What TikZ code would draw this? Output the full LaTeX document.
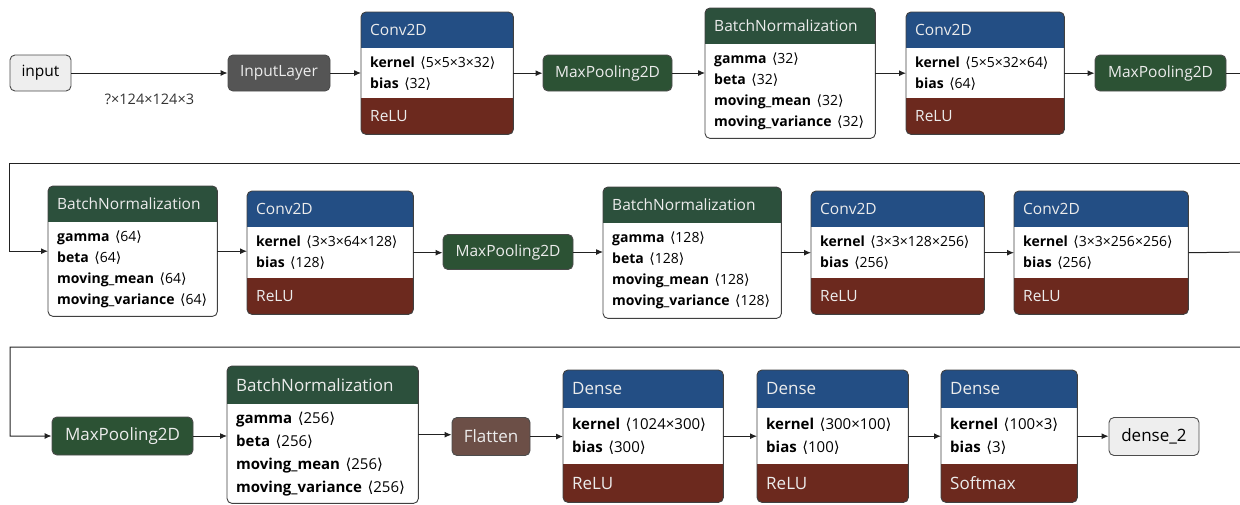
\documentclass[tikz,border=0pt]{standalone}
\usepackage{fontspec}
\setmainfont{Open Sans}
\newfontfamily\brfont{DejaVu Sans}
\usetikzlibrary{arrows.meta}

\definecolor{convblue}{RGB}{35,78,132}
\definecolor{normgreen}{RGB}{44,80,60}
\definecolor{poolgreen}{RGB}{44,82,52}
\definecolor{actred}{RGB}{108,41,30}
\definecolor{flatbrown}{RGB}{108,79,71}
\definecolor{layergray}{RGB}{85,85,85}
\definecolor{iofill}{RGB}{238,238,238}
\definecolor{edgecol}{RGB}{34,34,34}
\definecolor{headtext}{RGB}{236,236,236}

\newcommand{\hdsize}{\fontsize{15.5}{19}\selectfont}
\newcommand{\bdsize}{\fontsize{14}{21}\selectfont}
\newcommand{\hdh}{36pt}
\newcommand{\shp}[1]{\hspace{5.5pt}{\brfont ⟨}#1{\brfont ⟩}}

\tikzset{
  conn/.style={draw=edgecol, line width=1pt, -{Latex[length=7pt,width=6pt]}},
  boxshape/.style={rectangle, fill=white, rounded corners=5pt, anchor=north west, inner sep=0pt},
  boxborder/.style={draw=black!75, line width=0.9pt, rounded corners=5pt},
  headtxt/.style={text=headtext, font=\hdsize, anchor=west, inner sep=0pt},
  bodytxt/.style={text=black, font=\bdsize, align=left, anchor=west, inner sep=0pt},
  opnode/.style={rectangle, rounded corners=5pt, draw=black!70, line width=0.9pt, minimum height=\hdh, text=headtext, font=\hdsize},
  ionode/.style={opnode, fill=iofill, text=black},
  shapelbl/.style={text=black!80, font=\fontsize{14.5}{17}\selectfont}
}

% layer with weights and activation: name, x, y, width, height, title, weights, activation
\newcommand{\convbox}[8]{%
  \node[boxshape, minimum width=#4, minimum height=#5] (#1) at (#2,#3) {};
  \begin{scope}
    \clip[rounded corners=5pt] (#1.north west) rectangle (#1.south east);
    \fill[convblue] (#1.north west) rectangle ([yshift=-\hdh]#1.north east);
    \fill[actred] ([yshift=\hdh]#1.south west) rectangle (#1.south east);
  \end{scope}
  \draw[boxborder] (#1.north west) rectangle (#1.south east);
  \node[headtxt] (#1-title) at ([xshift=9pt, yshift=-\hdh/2]#1.north west) {#6};
  \node[bodytxt] (#1-body) at ([xshift=9pt]#1.west) {#7};
  \node[headtxt] (#1-act) at ([xshift=9pt, yshift=\hdh/2]#1.south west) {#8};
}

% normalization layer: name, x, y, width, height, title, weights
\newcommand{\normbox}[7]{%
  \node[boxshape, minimum width=#4, minimum height=#5] (#1) at (#2,#3) {};
  \begin{scope}
    \clip[rounded corners=5pt] (#1.north west) rectangle (#1.south east);
    \fill[normgreen] (#1.north west) rectangle ([yshift=-\hdh]#1.north east);
  \end{scope}
  \draw[boxborder] (#1.north west) rectangle (#1.south east);
  \node[headtxt] (#1-title) at ([xshift=9pt, yshift=-\hdh/2]#1.north west) {#6};
  \node[bodytxt] (#1-body) at ([xshift=9pt, yshift=-\hdh/2]#1.west) {#7};
}

\begin{document}
\begin{tikzpicture}[x=1pt, y=-1pt]
\useasboundingbox (0,0) rectangle (1240,504);

% Row 1
\node[ionode, minimum width=61] (input) at (40.5,73) {input};
\node[opnode, fill=layergray, minimum width=102] (inputlayer) at (279,73) {InputLayer};
\convbox{conv1}{361}{12}{152}{122}{Conv2D}{\textbf{kernel}\shp{5×5×3×32}\\\textbf{bias}\shp{32}}{ReLU}
\node[opnode, fill=poolgreen, minimum width=129] (pool1) at (607.5,73) {MaxPooling2D};
\normbox{bn1}{705}{8}{170}{130}{BatchNormalization}{\textbf{gamma}\shp{32}\\\textbf{beta}\shp{32}\\\textbf{moving\_mean}\shp{32}\\\textbf{moving\_variance}\shp{32}}
\convbox{conv2}{906}{12}{158}{122}{Conv2D}{\textbf{kernel}\shp{5×5×32×64}\\\textbf{bias}\shp{64}}{ReLU}
\node[opnode, fill=poolgreen, minimum width=131] (pool2) at (1160.5,73) {MaxPooling2D};

% Row 2
\normbox{bn2}{48}{186}{169}{130}{BatchNormalization}{\textbf{gamma}\shp{64}\\\textbf{beta}\shp{64}\\\textbf{moving\_mean}\shp{64}\\\textbf{moving\_variance}\shp{64}}
\convbox{conv3}{247}{191}{166}{123}{Conv2D}{\textbf{kernel}\shp{3×3×64×128}\\\textbf{bias}\shp{128}}{ReLU}
\node[opnode, fill=poolgreen, minimum width=130, minimum height=35] (pool3) at (508,252) {MaxPooling2D};
\normbox{bn3}{603}{187}{178}{131}{BatchNormalization}{\textbf{gamma}\shp{128}\\\textbf{beta}\shp{128}\\\textbf{moving\_mean}\shp{128}\\\textbf{moving\_variance}\shp{128}}
\convbox{conv4}{811}{191}{173}{123}{Conv2D}{\textbf{kernel}\shp{3×3×128×256}\\\textbf{bias}\shp{256}}{ReLU}
\convbox{conv5}{1014}{191}{174}{123}{Conv2D}{\textbf{kernel}\shp{3×3×256×256}\\\textbf{bias}\shp{256}}{ReLU}

% Row 3 (drawn a bit larger)
\begin{scope}
\renewcommand{\hdsize}{\fontsize{17}{20}\selectfont}
\renewcommand{\bdsize}{\fontsize{15}{23}\selectfont}
\renewcommand{\hdh}{38pt}
\node[opnode, fill=poolgreen, minimum width=141] (pool4) at (122.5,436) {MaxPooling2D};
\normbox{bn4}{227}{366}{191}{137}{BatchNormalization}{\textbf{gamma}\shp{256}\\\textbf{beta}\shp{256}\\\textbf{moving\_mean}\shp{256}\\\textbf{moving\_variance}\shp{256}}
\node[opnode, fill=flatbrown, minimum width=78] (flatten) at (491,436.5) {Flatten};
\convbox{dense1}{563}{370}{160}{132}{Dense}{\textbf{kernel}\shp{1024×300}\\\textbf{bias}\shp{300}}{ReLU}
\convbox{dense2}{757}{370}{151}{132}{Dense}{\textbf{kernel}\shp{300×100}\\\textbf{bias}\shp{100}}{ReLU}
\convbox{dense3}{941}{370}{136}{132}{Dense}{\textbf{kernel}\shp{100×3}\\\textbf{bias}\shp{3}}{Softmax}
\node[ionode, minimum width=90] (dense2out) at (1154,436.5) {dense\_2};
\end{scope}

% Arrows
\draw[conn] (input.east) -- node[shapelbl, yshift=-26pt] (inshape) {?×124×124×3} (input.east -| inputlayer.west);
\draw[conn] (inputlayer.east) -- (inputlayer.east -| conv1.west);
\draw[conn] (conv1.east) -- (conv1.east -| pool1.west);
\draw[conn] (pool1.east) -- (pool1.east -| bn1.west);
\draw[conn] (bn1.east) -- (bn1.east -| conv2.west);
\draw[conn] (conv2.east) -- (conv2.east -| pool2.west);

\draw[conn] (bn2.east) -- (bn2.east -| conv3.west);
\draw[conn] (conv3.east) -- (conv3.east -| pool3.west);
\draw[conn] (pool3.east) -- (pool3.east -| bn3.west);
\draw[conn] (bn3.east) -- (bn3.east -| conv4.west);
\draw[conn] (conv4.east) -- (conv4.east -| conv5.west);

\draw[conn] (pool4.east) -- (pool4.east -| bn4.west);
\draw[conn] (bn4.east) -- (bn4.east -| flatten.west);
\draw[conn] (flatten.east) -- (flatten.east -| dense1.west);
\draw[conn] (dense1.east) -- (dense1.east -| dense2.west);
\draw[conn] (dense2.east) -- (dense2.east -| dense3.west);
\draw[conn] (dense3.east) -- (dense3.east -| dense2out.west);

% Wrap from one row to the next
\coordinate (wrap1) at (1250,73);
\coordinate (turn1) at (9,163);
\draw[conn] (pool2.east) -- (wrap1) |- (turn1) |- (bn2.west);
\coordinate (wrap2) at (1250,252);
\coordinate (turn2) at (10,347);
\draw[conn] (conv5.east) -- (wrap2) |- (turn2) |- (pool4.west);
\end{tikzpicture}
\end{document}
